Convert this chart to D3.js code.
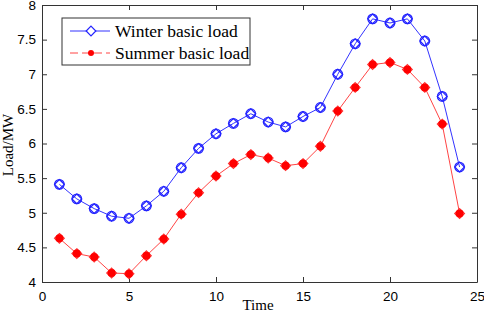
<!DOCTYPE html>
<html>
<head>
<meta charset="utf-8">
<script src="https://cdn.jsdelivr.net/npm/d3@7"></script>
<style>
  body { margin: 0; background: #fff; }
  svg { display: block; }
</style>
</head>
<body>
<svg id="chart"></svg>
<script>
// hours 1..24
const hours = d3.range(1, 25);
const winterLoad = [5.41, 5.20, 5.06, 4.95, 4.92, 5.10, 5.31, 5.65, 5.93, 6.14, 6.29, 6.43,
                    6.31, 6.24, 6.39, 6.52, 7.00, 7.44, 7.80, 7.74, 7.80, 7.48, 6.68, 5.66];
const summerLoad = [4.63, 4.41, 4.36, 4.13, 4.12, 4.38, 4.62, 4.98, 5.29, 5.53, 5.71, 5.84,
                    5.79, 5.68, 5.71, 5.96, 6.47, 6.81, 7.14, 7.17, 7.07, 6.81, 6.28, 4.99];
const xTicks = [0, 5, 10, 15, 20, 25];
const yTicks = [4, 4.5, 5, 5.5, 6, 6.5, 7, 7.5, 8];
const seriesNames = ['Winter basic load', 'Summer basic load'];

const width = 484, height = 315;
const margin = {top: 5, right: 7, bottom: 33, left: 42};
const innerW = width - margin.left - margin.right;
const innerH = height - margin.top - margin.bottom;

const svg = d3.select('#chart').attr('width', width).attr('height', height);
const g = svg.append('g').attr('transform', `translate(${margin.left},${margin.top})`);

const x = d3.scaleLinear().domain([0, 25]).range([0, innerW]);
const y = d3.scaleLinear().domain([4, 8]).range([innerH, 0]);

const axisColor = '#333';
const tickFont = '13.5px "Liberation Sans", Arial, sans-serif';
const fmt = d3.format('~g');

// axes, ticks pointing inward, plus top/right box ticks
const xAxis = g.append('g').attr('transform', `translate(0,${innerH})`)
    .call(d3.axisBottom(x).tickValues(xTicks).tickFormat(fmt).tickSizeInner(-5).tickSizeOuter(0).tickPadding(9));
const xTop = g.append('g')
    .call(d3.axisTop(x).tickValues(xTicks).tickSizeInner(-5).tickSizeOuter(0).tickFormat(''));
const yAxis = g.append('g')
    .call(d3.axisLeft(y).tickValues(yTicks).tickFormat(fmt).tickSizeInner(-5).tickSizeOuter(0).tickPadding(6));
const yRight = g.append('g').attr('transform', `translate(${innerW},0)`)
    .call(d3.axisRight(y).tickValues(yTicks).tickSizeInner(-5).tickSizeOuter(0).tickFormat(''));

[xAxis, xTop, yAxis, yRight].forEach(a => {
    a.selectAll('path').attr('stroke', axisColor);
    a.selectAll('line').attr('stroke', axisColor);
    a.selectAll('text').style('font', tickFont).attr('fill', '#000');
});

// series
const line = d3.line().x((d, i) => x(hours[i])).y(d => y(d));

g.append('path').datum(winterLoad)
    .attr('fill', 'none').attr('stroke', '#3333ff').attr('stroke-width', 1)
    .attr('d', line);
g.append('path').datum(summerLoad)
    .attr('fill', 'none').attr('stroke', '#ff4444').attr('stroke-width', 1)
    .attr('d', line);

const diamond = d3.symbol().type(d3.symbolDiamond2).size(60);

// winter markers: diamond + circle outline
const wm = g.append('g').selectAll('g').data(winterLoad).join('g')
    .attr('transform', (d, i) => `translate(${x(hours[i])},${y(d)})`);
wm.append('path').attr('d', diamond).attr('fill', 'none').attr('stroke', '#2222ff').attr('stroke-width', 1.2);
wm.append('circle').attr('r', 4.8).attr('fill', 'none').attr('stroke', '#2222ff').attr('stroke-width', 1.2);

// summer markers: diamond outline + filled dot
const sm = g.append('g').selectAll('g').data(summerLoad).join('g')
    .attr('transform', (d, i) => `translate(${x(hours[i])},${y(d)})`);
sm.append('path').attr('d', diamond).attr('fill', 'none').attr('stroke', '#ff3333').attr('stroke-width', 1.2);
sm.append('circle').attr('r', 4).attr('fill', '#ff0000');

// axis labels
const serif = '"Liberation Serif", "Times New Roman", serif';
svg.append('text')
    .attr('x', 258).attr('y', 310)
    .attr('text-anchor', 'middle')
    .style('font-family', serif).style('font-size', '15px')
    .text('Time');
svg.append('text')
    .attr('transform', 'rotate(-90)')
    .attr('x', -145).attr('y', 13)
    .attr('text-anchor', 'middle')
    .style('font-family', serif).style('font-size', '15px')
    .text('Load/MW');

// legend
const legend = svg.append('g').attr('transform', 'translate(62,18)');
legend.append('rect')
    .attr('width', 188).attr('height', 47)
    .attr('fill', '#fff').attr('stroke', axisColor).attr('stroke-width', 1);

const lg1 = legend.append('g').attr('transform', 'translate(0,13)');
lg1.append('line').attr('x1', 8).attr('x2', 48).attr('stroke', '#3333ff');
lg1.append('path').attr('d', diamond).attr('transform', 'translate(29,0)')
    .attr('fill', '#fff').attr('stroke', '#2222ff').attr('stroke-width', 1.2);
lg1.append('text').attr('x', 53).attr('y', 6)
    .style('font-family', serif).style('font-size', '17.5px').text(seriesNames[0]);

const lg2 = legend.append('g').attr('transform', 'translate(0,35)');
lg2.append('line').attr('x1', 8).attr('x2', 48).attr('stroke', '#ff4444')
    .attr('stroke-dasharray', '8,4');
lg2.append('circle').attr('cx', 29).attr('r', 3).attr('fill', '#ff0000');
lg2.append('text').attr('x', 53).attr('y', 6)
    .style('font-family', serif).style('font-size', '17.5px').text(seriesNames[1]);
</script>
</body>
</html>
